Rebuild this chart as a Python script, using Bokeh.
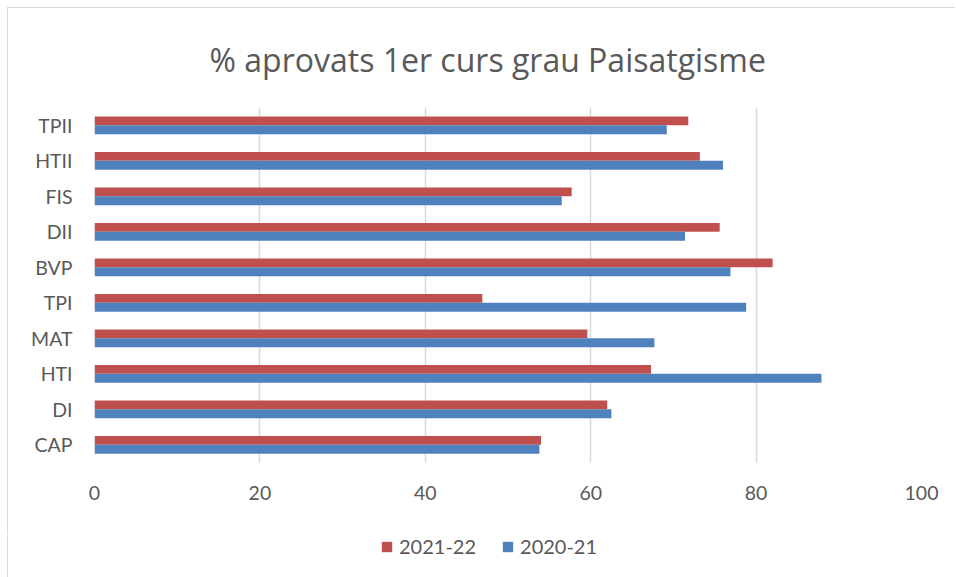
from bokeh.plotting import figure
from bokeh.layouts import column
from bokeh.models import Range1d, FixedTicker, Legend, LegendItem, ColumnDataSource
from bokeh.transform import dodge
from bokeh.embed import file_html
from bokeh.resources import INLINE

title = "% aprovats 1er curs grau Paisatgisme"
categories = ["CAP", "DI", "HTI", "MAT", "TPI", "BVP", "DII", "FIS", "HTII", "TPII"]
s2122 = [54.0, 62.0, 67.3, 59.6, 46.9, 82.0, 75.6, 57.7, 73.2, 71.8]
s2021 = [53.8, 62.5, 87.9, 67.7, 78.8, 76.9, 71.4, 56.5, 76.0, 69.2]
x_ticks = [0, 20, 40, 60, 80, 100]
series_names = ["2021-22", "2020-21"]

RED = "#C0504D"
BLUE = "#4F81BD"
TXT = "#595959"
FONT = "Lato"

ypos = [i + 0.5 for i in range(len(categories))]
src = ColumnDataSource(dict(y=ypos, a=s2122, b=s2021, cat=categories))

# main chart
p = figure(width=948, height=527, x_range=Range1d(0, 100), y_range=Range1d(0, len(categories)),
           output_backend="svg", toolbar_location=None,
           min_border_left=86, min_border_right=35, min_border_top=99, min_border_bottom=73)
p.margin = (8, 0, 0, 8)
p.styles = {"box-shadow": "-1px -1px 0 0 #d9d9d9"}
p.outline_line_color = None
p.background_fill_color = "white"
p.border_fill_color = "white"

p.title.text = title
p.title.align = "left"
p.title.offset = 115
p.title.standoff = 54
p.title.text_font = "Open Sans"
p.title.text_font_size = "32px"
p.title.text_font_style = "normal"
p.title.text_color = TXT

p.hbar(y=dodge("y", 0.125, range=p.y_range), right="a", left=0, height=0.25, source=src,
       fill_color=RED, line_color=None)
p.hbar(y=dodge("y", -0.125, range=p.y_range), right="b", left=0, height=0.25, source=src,
       fill_color=BLUE, line_color=None)

p.xaxis.ticker = FixedTicker(ticks=x_ticks)
p.yaxis.ticker = FixedTicker(ticks=ypos)
p.yaxis.major_label_overrides = {y: c for y, c in zip(ypos, categories)}

for ax in (p.xaxis[0], p.yaxis[0]):
    ax.axis_line_color = None
    ax.major_tick_line_color = None
    ax.minor_tick_line_color = None
    ax.major_label_text_font = FONT
    ax.major_label_text_font_size = "19.5px"
    ax.major_label_text_color = TXT
p.xaxis.major_label_standoff = 17
p.yaxis.major_label_standoff = 16

p.xgrid.grid_line_color = "#d9d9d9"
p.xgrid.grid_line_width = 1.5
p.xgrid.ticker = FixedTicker(ticks=x_ticks)
p.ygrid.grid_line_color = None

# legend strip below the chart (same series, bars out of view)
lp = figure(width=948, height=42, x_range=Range1d(0, 100), y_range=Range1d(100, 101),
            output_backend="svg", toolbar_location=None, x_axis_type=None, y_axis_type=None,
            min_border_left=0, min_border_right=0, min_border_top=0, min_border_bottom=0)
lp.margin = (0, 0, 0, 8)
lp.styles = {"box-shadow": "-1px 0 0 0 #d9d9d9"}
lp.outline_line_color = None
lp.background_fill_color = "white"
lp.border_fill_color = "white"
lp.xgrid.grid_line_color = None
lp.ygrid.grid_line_color = None

lr1 = lp.hbar(y=dodge("y", 0.125, range=lp.y_range), right="a", left=0, height=0.25, source=src,
              fill_color=RED, line_color=None)
lr2 = lp.hbar(y=dodge("y", -0.125, range=lp.y_range), right="b", left=0, height=0.25, source=src,
              fill_color=BLUE, line_color=None)

legend = Legend(items=[LegendItem(label=series_names[0], renderers=[lr1]),
                       LegendItem(label=series_names[1], renderers=[lr2])],
                orientation="horizontal", location=(286, 19),
                glyph_width=13, glyph_height=13, label_standoff=6, spacing=25,
                padding=0, margin=0, border_line_color=None, background_fill_alpha=0,
                label_text_font=FONT, label_text_font_size="20px", label_text_color=TXT)
lp.add_layout(legend, "center")

layout = column(p, lp, spacing=0)
open("out.html", "w").write(file_html(layout, INLINE))
